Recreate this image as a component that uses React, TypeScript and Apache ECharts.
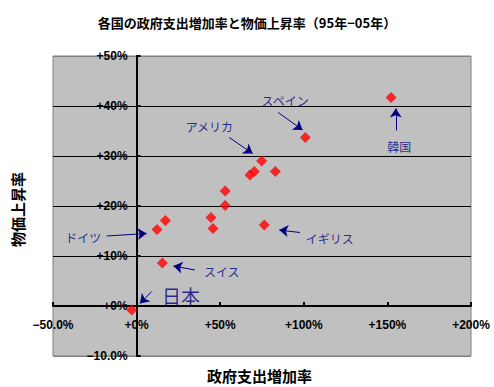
import React, { useEffect, useRef } from "react";
import * as echarts from "echarts";

const titleText = "各国の政府支出増加率と物価上昇率（95年−05年）";
const xTitle = "政府支出増加率";
const yTitle = "物価上昇率";

// government spending growth (%), price growth (%)
const spendGrowth = [152.2, 100.9, 74.8, 67.8, 70.4, 83.0, 53.0, 53.0, 44.5, 45.7, 17.2, 12.2, 15.4, -2.9, 76.4];
const priceGrowth = [41.7, 33.7, 29.0, 26.2, 26.9, 26.9, 23.0, 20.1, 17.7, 15.5, 17.1, 15.3, 8.6, -0.8, 16.2];

const annoNames = ["スペイン", "韓国", "アメリカ", "ドイツ", "スイス", "イギリス", "日本"];
const annoX = [88.8, 157.1, 43.5, -31.9, 50.9, 115.5, 26.5];
const annoY = [41.2, 32.0, 35.9, 13.7, 6.9, 13.5, 2.2];
const arrowFromX = [84.7, 155.0, 55.4, -17.9, 34.9, 97.7, 9.0];
const arrowFromY = [38.7, 35.1, 33.7, 14.0, 7.2, 14.7, 2.9];
const arrowToX = [99.3, 155.0, 69.4, 6.0, 22.0, 85.3, 2.0];
const arrowToY = [35.2, 39.5, 30.5, 14.5, 8.0, 15.2, 0.5];

const X_MIN = -50, X_MAX = 200, Y_MIN = -10, Y_MAX = 50;
const GRID_W = 418, GRID_H = 300;

const fmt = (v: number) => (v < 0 ? "−" + Math.abs(v).toFixed(1) + "%" : "+" + v + "%");

export default function App() {
  const ref = useRef<HTMLDivElement>(null);
  useEffect(() => {
    const chart = echarts.init(ref.current!, null, { renderer: "svg" });
    const navy = "#000080";
    const labelFont = { fontFamily: "Liberation Sans, Arial, sans-serif", fontWeight: "bold" as const, fontSize: 12, color: "#000" };
    // move axes onto the zero lines
    const yOffset = -((0 - X_MIN) / (X_MAX - X_MIN)) * GRID_W;
    const xOffset = -((0 - Y_MIN) / (Y_MAX - Y_MIN)) * GRID_H;
    chart.setOption({
      animation: false,
      backgroundColor: "#fff",
      title: {
        text: titleText,
        left: "center",
        top: 11,
        textStyle: { fontFamily: "Noto Sans CJK JP", fontWeight: "bold", fontSize: 13, color: "#000" },
      },
      grid: {
        left: 53,
        top: 56,
        width: GRID_W,
        height: GRID_H,
        show: true,
        backgroundColor: "#c0c0c0",
        borderColor: "#808080",
        borderWidth: 1,
      },
      xAxis: {
        type: "value",
        min: X_MIN,
        max: X_MAX,
        interval: 50,
        offset: xOffset,
        axisLine: { show: true, onZero: false, lineStyle: { color: "#000", width: 2 } },
        axisTick: { show: true, inside: true, length: 4, lineStyle: { color: "#000", width: 2 } },
        axisLabel: { ...labelFont, margin: 13, formatter: fmt },
        splitLine: { show: false },
      },
      yAxis: {
        type: "value",
        min: Y_MIN,
        max: Y_MAX,
        interval: 10,
        offset: yOffset,
        axisLine: { show: true, onZero: false, lineStyle: { color: "#000", width: 2 } },
        axisTick: { show: true, inside: true, length: 4, lineStyle: { color: "#000", width: 2 } },
        axisLabel: { ...labelFont, margin: 9, formatter: fmt },
        splitLine: {
          show: true,
          lineStyle: { color: ["#808080", "#000", "#000", "#000", "#000", "#000", "#808080"], width: 1 },
        },
      },
      graphic: [
        {
          type: "text",
          left: 207,
          top: 368,
          style: { text: xTitle, font: "bold 15px 'Noto Sans CJK JP'", fill: "#000" },
        },
        {
          type: "text",
          x: 10,
          y: 247,
          rotation: Math.PI / 2,
          style: { text: yTitle, font: "bold 15px 'Noto Sans CJK JP'", fill: "#000" },
        },
      ],
      series: [
        {
          type: "scatter",
          symbol: "diamond",
          symbolSize: 11,
          itemStyle: { color: "#ff0000" },
          data: spendGrowth.map((x, i) => [x, priceGrowth[i]]),
          z: 3,
          markLine: {
            silent: true,
            symbol: ["none", "arrow"],
            symbolSize: 9,
            label: { show: false },
            lineStyle: { color: navy, width: 1, type: "solid" },
            data: arrowFromX.map((x, i) => [
              { coord: [x, arrowFromY[i]] },
              { coord: [arrowToX[i], arrowToY[i]] },
            ]),
          },
        },
        {
          type: "scatter",
          symbolSize: 0,
          silent: true,
          data: annoNames.map((n, i) => ({
            value: [annoX[i], annoY[i]],
            name: n,
            label: n === "日本" ? { fontSize: 19 } : undefined,
          })),
          label: {
            show: true,
            position: "inside",
            formatter: (p: any) => p.name,
            fontFamily: "Noto Sans CJK JP",
            fontSize: 12,
            color: navy,
          },
          z: 4,
        },
      ],
    });
    return () => chart.dispose();
  }, []);
  return <div ref={ref} style={{ position: "fixed", left: 0, top: 0, width: 494, height: 387 }} />;
}
